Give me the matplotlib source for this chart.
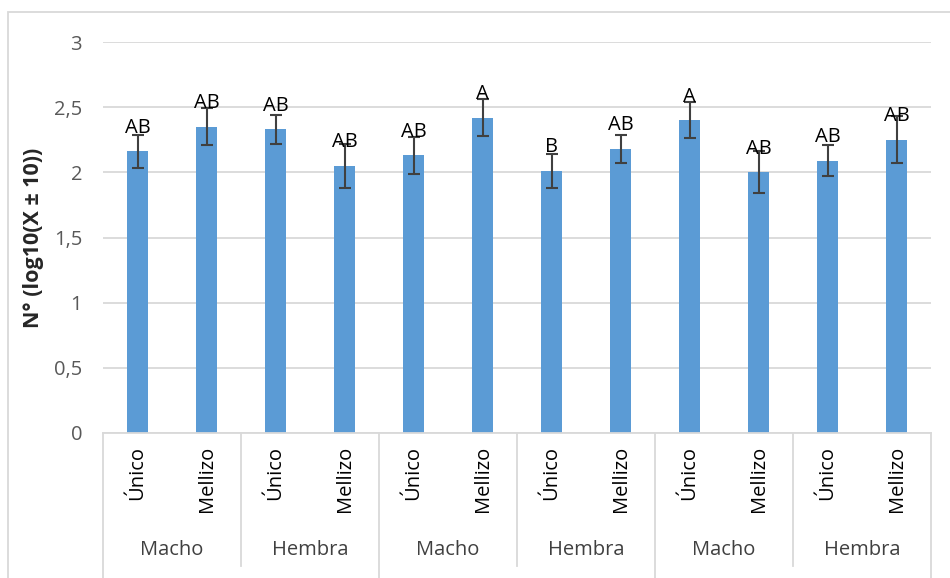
import matplotlib
matplotlib.use("Agg")
import matplotlib.pyplot as plt
from matplotlib.patches import Rectangle

plt.rcParams['font.family'] = ['Open Sans', 'DejaVu Sans']

# Data
birth_type = ['Único', 'Mellizo'] * 6
sex = ['Macho', 'Hembra', 'Macho', 'Hembra', 'Macho', 'Hembra']
means = [2.16, 2.35, 2.33, 2.05, 2.13, 2.42, 2.01, 2.18, 2.40, 2.00, 2.09, 2.25]
errors = [0.13, 0.14, 0.11, 0.17, 0.14, 0.14, 0.13, 0.11, 0.14, 0.16, 0.12, 0.18]
letters = ['AB', 'AB', 'AB', 'AB', 'AB', 'A', 'B', 'AB', 'A', 'AB', 'AB', 'AB']
y_ticks = [0, 0.5, 1, 1.5, 2, 2.5, 3]
y_tick_labels = ['0', '0,5', '1', '1,5', '2', '2,5', '3']

W, H = 950, 578
fig = plt.figure(figsize=(W / 100, H / 100), dpi=100)
ax = fig.add_axes([103 / W, (H - 433) / H, (931 - 103) / W, (433 - 42) / H])

grid_c = '#d9d9d9'
bar_c = '#5b9bd5'
x = list(range(len(means)))

ax.bar(x, means, width=0.30, color=bar_c, zorder=2)
ax.errorbar(x, means, yerr=errors, fmt='none', ecolor='#404040',
            elinewidth=1.5, capsize=4, capthick=1.5, zorder=3)

for xi, m, lab in zip(x, means, letters):
    ax.annotate(lab, (xi, m), xytext=(0, 17), textcoords='offset points',
                ha='center', va='center', fontsize=14.5, color='#000000', zorder=4)

ax.set_xlim(-0.5, len(means) - 0.5)
ax.set_ylim(0, 3)
ax.set_yticks(y_ticks)
ax.set_yticklabels(y_tick_labels, fontsize=14.5, color='#595959')
ax.tick_params(axis='y', length=0, pad=15)
ax.set_xticks([])
ax.yaxis.grid(True, color=grid_c, linewidth=1.3, zorder=0)
ax.set_axisbelow(True)
for s in ax.spines.values():
    s.set_visible(False)

ax.set_ylabel('N° (log10(X ± 10))', fontsize=15.5, fontweight='bold',
              color='#262626')
ax.yaxis.set_label_coords(-0.071, 0.5)

# Multi-level category axis
tr = ax.get_xaxis_transform()
ax.plot([-0.5, len(means) - 0.5], [0, 0], color=grid_c, lw=1.3,
        transform=tr, clip_on=False)
for i, lab in enumerate(birth_type):
    ax.text(i, -0.033, lab, rotation=90, ha='center', va='top',
            fontsize=14.5, color='#000000', transform=tr)
for g, lab in enumerate(sex):
    ax.text(2 * g + 0.5, -0.30, lab, ha='center', va='center',
            fontsize=14.5, color='#404040', transform=tr)
for b in range(0, len(means) + 1, 2):
    xb = b - 0.5
    y_end = -0.40 if b % 4 == 0 else -0.340
    ax.plot([xb, xb], [0, y_end], color=grid_c, lw=1.3,
            transform=tr, clip_on=False)

# Chart-area border
fig.patches.append(Rectangle((8 / W, -0.1), 1.2, 1.1 - 12 / H,
                             transform=fig.transFigure, fill=False,
                             edgecolor=grid_c, linewidth=1.3))

fig.savefig('out.png', dpi=100, facecolor='white')
